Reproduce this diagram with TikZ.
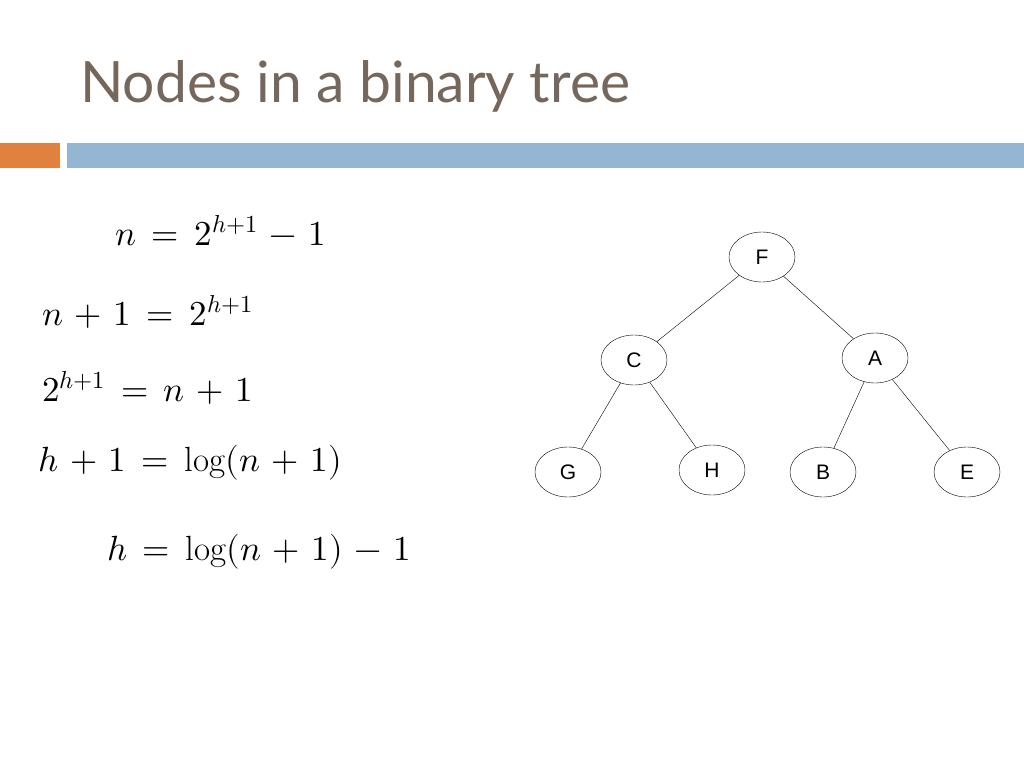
\documentclass[tikz,border=0pt]{standalone}
\usepackage{fontspec}
\usepackage{unicode-math}
\setmainfont{Liberation Sans}
\setmathrm{Latin Modern Roman}
\newfontfamily\titlefont{Lato}
\usetikzlibrary{shapes.geometric}
\definecolor{titlec}{HTML}{76675C}
\definecolor{orangebar}{HTML}{E0813F}
\definecolor{bluebar}{HTML}{94B6D3}
\newcommand\myeqsp{\medmuskip=6mu\relax\thickmuskip=8mu\relax}
\tikzset{tn/.style={ellipse,draw,fill=white,minimum width=66pt,minimum height=50pt,inner sep=0pt,font=\fontsize{21}{24}\selectfont},
eq/.style={anchor=base west,inner sep=0pt,font=\fontsize{35}{40}\selectfont}}
\begin{document}
\begin{tikzpicture}[x=1pt,y=-1pt]
\useasboundingbox (0,0) rectangle (1024,768);
\node[anchor=base west,inner sep=0pt,text=titlec,font=\titlefont\fontsize{57}{66}\selectfont] (title) at (80,102) {Nodes in a binary tree};
\fill[orangebar] (0,143) rectangle (60,168);
\fill[bluebar] (67,143) rectangle (1024,168);
\node[eq] (e1) at (115,245) {$\myeqsp n=2^{h+1}-1$};
\node[eq] (e2) at (42,325) {$\myeqsp n+1=2^{h+1}$};
\node[eq] (e3) at (42,401) {$\myeqsp 2^{h+1}=n+1$};
\node[eq] (e4) at (38,471) {$\myeqsp h+1=\log(n+1)$};
\node[eq] (e5) at (107,560) {$\myeqsp h=\log(n+1)-1$};
\node[tn] (F) at (762,257) {F};
\node[tn] (C) at (634,360) {C};
\node[tn] (A) at (875,358) {A};
\node[tn] (G) at (568,472) {G};
\node[tn] (H) at (712,470) {H};
\node[tn] (B) at (823,472) {B};
\node[tn] (E) at (967,472) {E};
\draw (F) -- (C); \draw (F) -- (A);
\draw (C) -- (G); \draw (C) -- (H);
\draw (A) -- (B); \draw (A) -- (E);
\end{tikzpicture}
\end{document}
